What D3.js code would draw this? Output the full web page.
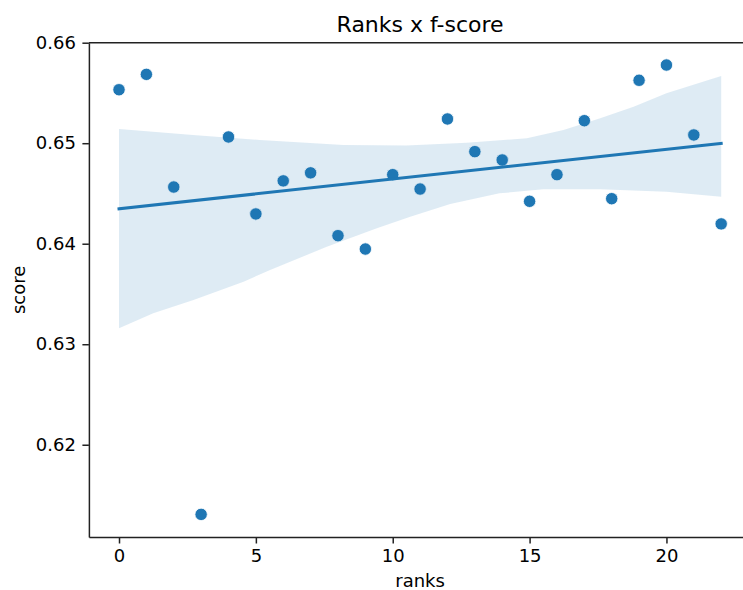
<!DOCTYPE html>
<html>
<head>
<meta charset="utf-8">
<script src="https://cdn.jsdelivr.net/npm/d3@7"></script>
<style>
  html, body { margin: 0; padding: 0; background: #fff; }
  svg { display: block; font-family: "DejaVu Sans", sans-serif; }
</style>
</head>
<body>
<script>
// ---- data ----
const ranks = [0,1,2,3,4,5,6,7,8,9,10,11,12,13,14,15,16,17,18,19,20,21,22];
const scores = [0.65532,0.65685,0.64564,0.61307,0.65062,0.64296,0.64625,0.64705,0.64080,0.63947,
                0.64687,0.64544,0.65241,0.64916,0.64833,0.64422,0.64687,0.65224,0.64448,0.65626,
                0.65778,0.65082,0.64197];
// bootstrapped 95% CI band
const ciUpperX = [0, 2.7, 5.15, 8.2, 10.5, 12.7, 14.9, 16.24, 17.58, 18.8, 20, 22];
const ciUpperY = [0.65141,0.65082,0.65032,0.64982,0.64977,0.65005,0.65049,0.65131,0.65248,0.65363,0.65497,0.65669];
const ciLowerX = [0, 1.25, 2.72, 4.55, 5.52, 7.59, 9.42, 10.64, 12.1, 13.9, 15.5, 17.58, 20, 22];
const ciLowerY = [0.63158,0.63307,0.63440,0.63622,0.63738,0.63970,0.64153,0.64269,0.64395,0.64501,0.64541,0.64541,0.64517,0.64468];
const xTicks = [0, 5, 10, 15, 20];
const yTicks = [0.62, 0.63, 0.64, 0.65, 0.66];
const title = "Ranks x f-score";
const xLabel = "ranks";
const yLabel = "score";

// ---- layout ----
const W = 743, H = 590;
const L = 88.9, R = 751.3, T = 42.7, B = 537;
const color = "#1f77b4";

const svg = d3.select("body").append("svg").attr("width", W).attr("height", H);

const x = d3.scaleLinear().domain([-1.1, 23.1]).range([L, R]);
const y = d3.scaleLinear().domain([0.61082, 0.66]).range([B, T]);

// scatter
svg.append("g").selectAll("circle").data(ranks).join("circle")
  .attr("cx", (d) => x(d))
  .attr("cy", (d, i) => y(scores[i]))
  .attr("r", 6.2)
  .attr("fill", color)
  .attr("stroke", "#fff")
  .attr("stroke-width", 0.8);

// CI band
const upper = ciUpperX.map((d, i) => [d, ciUpperY[i]]);
const lower = ciLowerX.map((d, i) => [d, ciLowerY[i]]).reverse();
const poly = upper.concat(lower);
svg.append("path")
  .attr("d", d3.line().x(d => x(d[0])).y(d => y(d[1]))(poly) + "Z")
  .attr("fill", color).attr("fill-opacity", 0.15).attr("stroke", "none");

// OLS regression line
const mx = d3.mean(ranks), my = d3.mean(scores);
let sxy = 0, sxx = 0;
ranks.forEach((d, i) => { sxy += (d - mx) * (scores[i] - my); sxx += (d - mx) * (d - mx); });
const slope = sxy / sxx, icpt = my - slope * mx;
const x0 = d3.min(ranks), x1 = d3.max(ranks);
svg.append("line")
  .attr("x1", x(x0)).attr("y1", y(icpt + slope * x0))
  .attr("x2", x(x1)).attr("y2", y(icpt + slope * x1))
  .attr("stroke", color).attr("stroke-width", 3).attr("stroke-linecap", "square");

// axes
const xAxis = svg.append("g").attr("transform", `translate(0,${B})`)
  .call(d3.axisBottom(x).tickValues(xTicks).tickFormat(d3.format("d")).tickSize(6.5).tickSizeOuter(0).tickPadding(5.5));
const yAxis = svg.append("g").attr("transform", `translate(${L},0)`)
  .call(d3.axisLeft(y).tickValues(yTicks).tickFormat(d3.format(".2f")).tickSize(6.5).tickSizeOuter(0).tickPadding(6.5));
[xAxis, yAxis].forEach(g => {
  g.select(".domain").attr("stroke", "#222").attr("stroke-width", 1.5);
  g.selectAll(".tick line").attr("stroke", "#222").attr("stroke-width", 1.5);
  g.selectAll(".tick text").attr("fill", "#000").style("font-size", "18px").style("font-family", "DejaVu Sans");
});
// top spine
svg.append("line").attr("x1", L).attr("x2", R).attr("y1", T).attr("y2", T)
  .attr("stroke", "#222").attr("stroke-width", 1.5);
// right spine (outside view)
svg.append("line").attr("x1", R).attr("x2", R).attr("y1", T).attr("y2", B)
  .attr("stroke", "#222").attr("stroke-width", 1.5);

// labels
svg.append("text").attr("x", (L + R) / 2).attr("y", 32).attr("text-anchor", "middle")
  .style("font-size", "22px").attr("fill", "#000").text(title);
svg.append("text").attr("x", (L + R) / 2).attr("y", 587).attr("text-anchor", "middle")
  .style("font-size", "18px").attr("fill", "#000").text(xLabel);
svg.append("text").attr("transform", `translate(25,${(T + B) / 2}) rotate(-90)`).attr("text-anchor", "middle")
  .style("font-size", "18px").attr("fill", "#000").text(yLabel);
</script>
</body>
</html>
